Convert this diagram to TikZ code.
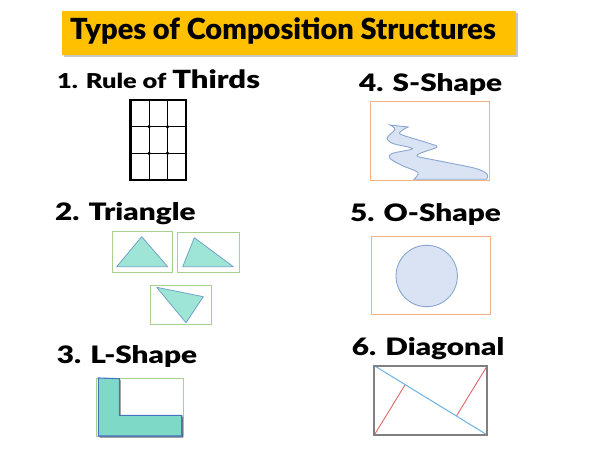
\documentclass[tikz,border=0pt]{standalone}
\usepackage{fontspec}
\setmainfont{Lato Black}
\usetikzlibrary{calc}

\definecolor{titlegold}{HTML}{FFC000}
\definecolor{boxgreen}{HTML}{A9D18E}
\definecolor{boxorange}{HTML}{F4B183}
\definecolor{trifill}{HTML}{9FE5D5}
\definecolor{triline}{HTML}{6FA3CC}
\definecolor{lfill}{HTML}{7FD9C7}
\definecolor{lline}{HTML}{4472C4}
\definecolor{waterfill}{HTML}{DAE3F3}
\definecolor{waterline}{HTML}{8AA6D2}
\definecolor{diagblue}{HTML}{6CB2E2}
\definecolor{diagred}{HTML}{E06666}

\newcommand\wide[1]{\scalebox{1.24}[1]{#1}}

\tikzset{
  heading/.style={anchor=base west, inner sep=0pt, font=\fontsize{24}{24}\selectfont},
  greenbox/.style={draw=boxgreen, line width=0.9pt},
  orangebox/.style={draw=boxorange, line width=0.9pt},
  tri/.style={fill=trifill, draw=triline, line width=0.8pt, line join=round},
  water/.style={fill=waterfill, draw=waterline, line width=0.9pt},
}

\begin{document}
\begin{tikzpicture}[x=1pt,y=-1pt]
\useasboundingbox (0,0) rectangle (600,449);

% title bar
\fill[black!22] (64,13) rectangle (518,57);
\fill[titlegold] (62,11) rectangle (516,55);
\node[anchor=base west, inner sep=0pt, font=\fontsize{29}{29}\selectfont] (title) at (70,40) {Types of Composition Structures};

% headings
\node[heading] (thirds) at (57,89) {\wide{{\fontsize{20.5}{20.5}\selectfont 1. Rule of }\fontsize{25}{25}\selectfont Thirds}};
\node[heading] (triangle) at (55,220.7) {\wide{2. Triangle}};
\node[heading] (lshape) at (56.7,363.3) {\wide{3. L-Shape}};
\node[heading] (sshape) at (359,92) {\wide{4. S-Shape}};
\node[heading] (oshape) at (350,221.7) {\wide{5. O-Shape}};
\node[heading] (diagonal) at (351.7,355) {\wide{6. Diagonal}};

% rule of thirds
\draw[line width=2.6pt] (130.7,100) rectangle (186,180);
\foreach \x in {149.1,167.5}
  \draw[line width=0.6pt] (\x,100) -- (\x,180);
\foreach \y in {126.7,153.3}
  \draw[line width=0.6pt] (130.7,\y) -- (186,\y);
\foreach \x in {149.1,167.5}
  \foreach \y in {126.7,153.3}
    \fill (\x,\y) circle[radius=1.9];

% triangles
\draw[greenbox] (112.3,231.7) rectangle (172.7,272.3);
\draw[tri] (141.7,236.7) -- (116.7,266.7) -- (167.7,266.7) -- cycle;
\draw[greenbox] (177.7,232.7) rectangle (239,272.3);
\draw[tri] (194.3,237.7) -- (182.7,266.7) -- (233.3,266.7) -- cycle;
\draw[greenbox] (150.3,285) rectangle (211.7,324);
\draw[tri] (156.7,287.3) -- (203.3,296.7) -- (186,322.7) -- cycle;

% L shape
\draw[greenbox] (96.7,378.7) rectangle (183.3,436.3);
\fill[black!55] (99.5,379.5) -- (120.5,380) -- (120.5,416.5) -- (183,416.5) -- (183,437.5) -- (99.5,437.5) -- cycle;
\draw[fill=lfill, draw=lline, line width=1.1pt] (98.3,378) -- (119.3,378.7) -- (119.3,415.3) -- (181.7,415.3) -- (181.7,436) -- (98.3,436) -- cycle;

% S shape
\draw[orangebox] (370,101.7) rectangle (489.3,180);
\draw[water] plot[smooth, tension=0.5] coordinates {(390,125) (395,129.5) (387,138) (393,143.5) (410,147.5) (411,149.5) (392,153.5) (390,158.5) (402,165.5) (418,172.5) (414,179.3)}
  -- plot[smooth, tension=0.5] coordinates {(486.7,179.3) (487,174) (476,168.5) (442,161.5) (418,156.5) (421,153) (437,147) (428,143) (401,134.5) (402,130.5) (408,127)} -- cycle;

% O shape
\draw[orangebox] (371,236) rectangle (490.7,314);
\draw[water] (426.7,276) circle[radius=30.7];

% diagonal
\coordinate (dtl) at (374.3,365.7);
\coordinate (dtr) at (487.3,365.7);
\coordinate (dbl) at (374.3,435);
\coordinate (dbr) at (487.3,435);
\draw[diagred, line width=0.9pt] (dbl) -- ($(dtl)!(dbl)!(dbr)$);
\draw[diagred, line width=0.9pt] (dtr) -- ($(dtl)!(dtr)!(dbr)$);
\draw[diagblue, line width=1pt] (dtl) -- (dbr);
\draw[black!50, line width=1.8pt] (dtl) rectangle (dbr);
\end{tikzpicture}
\end{document}
